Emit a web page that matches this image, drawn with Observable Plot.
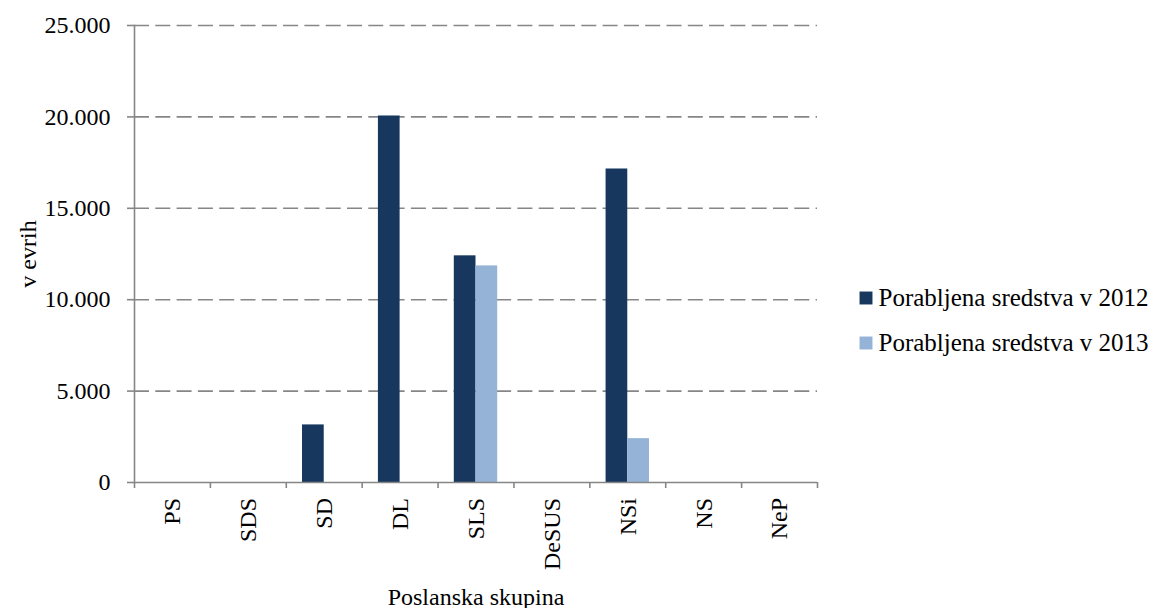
<!DOCTYPE html>
<html>
<head>
<meta charset="utf-8">
<script src="https://cdn.jsdelivr.net/npm/d3@7"></script>
<script src="https://cdn.jsdelivr.net/npm/@observablehq/plot@0.6"></script>
<style>
  html, body { margin: 0; padding: 0; background: #fff; }
  #wrap { position: relative; width: 1156px; height: 608px; }
  #chart { position: absolute; left: 0; top: 0; }
  #legend { position: absolute; left: 855px; top: 275px; }
  #xlabels { position: absolute; left: 0; top: 0; pointer-events: none; }
</style>
</head>
<body>
<div id="wrap"><div id="chart"></div><div id="legend"></div></div>
<script>
const categories = ["PS", "SDS", "SD", "DL", "SLS", "DeSUS", "NSi", "NS", "NeP"];
const values2012 = [0, 0, 3150, 20050, 12400, 0, 17150, 0, 0];
const values2013 = [0, 0, 0, 0, 11850, 0, 2400, 0, 0];
const seriesNames = ["Porabljena sredstva v 2012", "Porabljena sredstva v 2013"];
const seriesColors = ["#17375E", "#95B3D7"];
const yTicks = [0, 5000, 10000, 15000, 20000, 25000];

const data2012 = categories.map((c, i) => ({cat: c, v: values2012[i]}));
const data2013 = categories.map((c, i) => ({cat: c, v: values2013[i]}));

const W = 840, H = 608, mL = 134, mR = 23, mT = 25, mB = 126;
const step = (W - mL - mR) / categories.length;
const barW = step * 0.286;
const outer = (step - 2 * barW) / 2;
const gray = "#868686";
const font = "Liberation Serif";
const fmt = d3.formatLocale({decimal: ",", thousands: ".", grouping: [3], currency: ["", ""]}).format(",");

const chart = Plot.plot({
  width: W, height: H,
  marginLeft: mL, marginRight: mR, marginTop: mT, marginBottom: mB,
  style: {fontFamily: font, fontSize: "24px", color: "#000", background: "#fff"},
  x: {domain: categories, padding: 0, round: false},
  y: {domain: [0, 25000]},
  marks: [
    Plot.ruleY(yTicks.filter(d => d > 0), {stroke: gray, strokeWidth: 1.6, strokeDasharray: "15,6.3"}),
    Plot.barY(data2012, {x: "cat", y: "v", fill: seriesColors[0], insetLeft: outer, insetRight: outer + barW}),
    Plot.barY(data2013, {x: "cat", y: "v", fill: seriesColors[1], insetLeft: outer + barW, insetRight: outer}),
    Plot.ruleY([0], {stroke: gray, strokeWidth: 1.6}),
    Plot.frame({anchor: "left", stroke: gray, strokeWidth: 1.6}),
    Plot.axisY(yTicks, {tickSize: 7, tickPadding: 17, tickFormat: fmt, stroke: gray, strokeWidth: 1.6, fill: "#000",
      label: "v evrih", labelAnchor: "center", labelOffset: 116, labelArrow: false}),
    Plot.axisX(categories, {tickSize: 6, dx: -step / 2, tickFormat: () => "", stroke: gray, strokeWidth: 1.6,
      label: "Poslanska skupina", labelAnchor: "center", labelOffset: 122, labelArrow: false}),
    Plot.axisX([categories[categories.length - 1]], {tickSize: 6, dx: step / 2, tickFormat: () => "", stroke: gray, strokeWidth: 1.6, label: null})
  ]
});
document.getElementById("chart").appendChild(chart);

// rotated category labels in an overlay svg, placed from the chart's own x and y scales
const xs = chart.scale("x"), ys = chart.scale("y");
const overlay = d3.create("svg")
  .attr("id", "xlabels")
  .attr("width", W).attr("height", H)
  .attr("font-family", font).attr("font-size", 24).attr("fill", "#000");
categories.forEach(c => {
  const cx = xs.apply(c) + xs.bandwidth / 2;
  const cy = ys.apply(0) + 16;
  overlay.append("text")
    .attr("transform", `translate(${cx},${cy}) rotate(-90)`)
    .attr("text-anchor", "end")
    .attr("dy", "0.35em")
    .text(c);
});
document.getElementById("wrap").appendChild(overlay.node());

const legendPlot = Plot.plot({
  width: 300, height: 90,
  margin: 0, marginLeft: 10.5,
  style: {fontFamily: font, fontSize: "24px", color: "#000", background: "transparent"},
  x: {axis: null},
  y: {type: "point", domain: seriesNames, padding: 0.5, axis: null, round: false},
  color: {domain: seriesNames, range: seriesColors},
  marks: [
    Plot.dot(seriesNames, {y: d => d, frameAnchor: "left", symbol: "square", r: 7.3, fill: d => d, stroke: "none"}),
    Plot.text(seriesNames, {y: d => d, frameAnchor: "left", dx: 12.5, textAnchor: "start", lineAnchor: "middle",
      fill: "#000", fontSize: 25, fontFamily: font})
  ]
});
document.getElementById("legend").appendChild(legendPlot);
</script>
</body>
</html>
